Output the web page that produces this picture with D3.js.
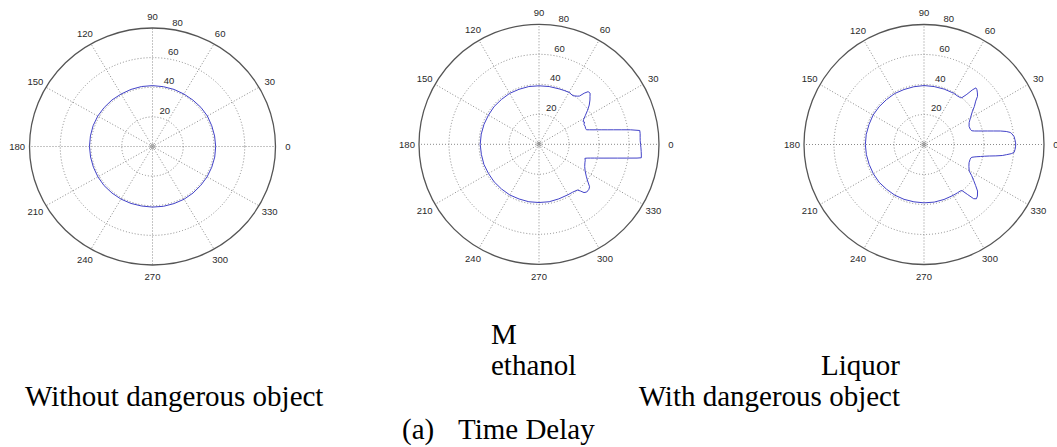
<!DOCTYPE html>
<html>
<head>
<meta charset="utf-8">
<script src="https://cdn.jsdelivr.net/npm/d3@7"></script>
<style>
  body { margin: 0; background: #fff; }
  svg { display: block; }
</style>
</head>
<body>
<div id="chart"></div>
<script>
// polar axis ticks
const angleTicks = [0, 30, 60, 90, 120, 150, 180, 210, 240, 270, 300, 330];
const ringTicks = [20, 40, 60, 80];
const rMax = 80;

// without dangerous object
const withoutAngles = [0, 10, 20, 30, 40, 50, 60, 70, 80, 90, 100, 110, 120, 130, 140, 150, 160, 170,
  180, 190, 200, 210, 220, 230, 240, 250, 260, 270, 280, 290, 300, 310, 320, 330, 340, 350];
const withoutValues = [41.1, 41.0, 41.0, 41.2, 41.1, 40.9, 40.9, 41.0, 41.0, 41.1, 41.1, 41.0, 40.9, 41.0, 41.0, 41.1, 41.1, 41.0,
  41.0, 40.9, 40.9, 41.0, 41.1, 41.0, 41.0, 40.9, 40.8, 40.9, 41.0, 41.0, 41.1, 41.0, 40.9, 41.0, 41.0, 41.1];

// methanol
const methanolAngles = [-180, -170, -160, -150, -140, -130, -120, -110, -100, -90, -80, -70, -60, -55, -50, -48.5, -47, -45, -42, -40, -37, -34, -30, -26, -22, -19, -17,
  -16, -15, -14, -13, -12, -11, -10, -9, -8, -7.5, -6, -4, -2, 0, 2, 4, 6, 7.8, 9, 10, 11, 12, 13, 14, 15, 16, 17, 19, 21, 24, 26, 27, 29, 32, 35, 38, 41, 43, 45, 47,
  48.5, 50, 51.5, 55, 60, 65, 70, 80, 90, 100, 110, 120, 130, 140, 150, 160, 170];
const methanolValues = [39.2, 39.0, 39.1, 38.9, 39.0, 38.9, 39.0, 38.8, 38.9, 38.8, 38.9, 38.7, 38.8, 39.0, 39.8, 41.5, 44.0, 45.0, 44.8, 44.0, 40.6, 38.0, 35.5, 33.9, 33.0, 32.6, 32.0,
  33.4, 35.5, 38.0, 40.9, 44.3, 48.2, 53.0, 58.8, 66.0, 68.8, 68.6, 68.3, 68.0, 67.7, 67.5, 67.6, 67.8, 67.8, 61.8, 55.7, 50.7, 46.5, 43.0, 40.0, 37.3, 35.1, 33.1, 32.8, 33.0, 32.8, 33.8, 33.0, 34.0, 36.5, 39.5, 42.5, 45.0, 46.5, 48.2, 48.0,
  45.5, 42.0, 41.0, 39.5, 40.0, 39.6, 39.3, 39.1, 39.0, 39.1, 39.0, 39.2, 39.0, 39.1, 38.9, 39.0, 39.1];

// liquor
const liquorAngles = [-180, -170, -160, -150, -140, -130, -120, -110, -100, -90, -80, -70, -60, -55, -52, -50.5, -49, -47.5, -46, -44, -41, -38.5, -36, -33, -30.5, -26, -22, -18,
  -16, -15, -14, -13, -12, -11, -10, -9, -8, -7, -6, -5, -3, -1, 1, 3, 5, 7, 8, 9, 10, 11, 12, 13, 14, 15, 16, 18, 22, 26, 30, 34.5, 37, 40, 42, 44, 46, 47.5,
  48.5, 49.5, 51, 52, 55, 60, 70, 80, 90, 100, 110, 120, 130, 140, 150, 160, 170];
const liquorValues = [39.1, 39.0, 38.9, 39.0, 39.1, 38.9, 39.0, 38.9, 38.8, 38.9, 39.0, 39.0, 39.1, 39.2, 39.3, 39.8, 44.0, 49.0, 50.3, 49.5, 47.3, 44.0, 41.0, 37.8, 35.0, 33.3, 32.4, 32.3,
  32.5, 33.0, 34.4, 36.2, 38.5, 41.0, 44.2, 48.5, 52.7, 55.5, 58.5, 60.3, 60.8, 61.1, 61.1, 60.7, 60.3, 59.0, 58.0, 55.5, 51.8, 47.2, 43.3, 40.0, 37.2, 34.8, 33.2, 32.5, 32.4, 33.5, 35.8, 39.2, 42.0, 45.0, 48.0, 49.5, 50.8, 51.2,
  48.5, 44.0, 40.2, 39.6, 39.3, 39.5, 39.3, 39.2, 39.3, 39.1, 39.0, 39.2, 39.0, 39.1, 39.2, 39.0, 39.1];

const width = 1057;
const height = 447;

const svg = d3
  .select("#chart")
  .append("svg")
  .attr("width", width)
  .attr("height", height)
  .style("background", "#fff");

const panels = [
  { cx: 152.5, cy: 146.5, rx: 123, ry: 118.5, angles: withoutAngles, values: withoutValues },
  { cx: 539, cy: 144.3, rx: 120, ry: 120, angles: methanolAngles, values: methanolValues },
  { cx: 924, cy: 144.5, rx: 120, ry: 120, angles: liquorAngles, values: liquorValues },
];

const theta = d3.scaleLinear().domain([0, 360]).range([0, 2 * Math.PI]);

function drawPolar(p) {
  const g = svg.append("g");
  const rX = d3.scaleLinear().domain([0, rMax]).range([0, p.rx]);
  const rY = d3.scaleLinear().domain([0, rMax]).range([0, p.ry]);
  const px = (a, r) => p.cx + rX(r) * Math.cos(theta(a));
  const py = (a, r) => p.cy - rY(r) * Math.sin(theta(a));

  // dotted rings
  g.selectAll(".ring")
    .data(ringTicks.filter((d) => d < rMax))
    .enter()
    .append("ellipse")
    .attr("cx", p.cx)
    .attr("cy", p.cy)
    .attr("rx", (d) => rX(d))
    .attr("ry", (d) => rY(d))
    .attr("fill", "none")
    .attr("stroke", "#8a8a8a")
    .attr("stroke-width", 1)
    .attr("stroke-dasharray", "1,2");

  // dotted spokes
  g.selectAll(".spoke")
    .data(angleTicks)
    .enter()
    .append("line")
    .attr("x1", p.cx)
    .attr("y1", p.cy)
    .attr("x2", (d) => px(d, rMax))
    .attr("y2", (d) => py(d, rMax))
    .attr("stroke", "#8a8a8a")
    .attr("stroke-width", 1)
    .attr("stroke-dasharray", "1,2");

  // outer circle
  g.append("ellipse")
    .attr("cx", p.cx)
    .attr("cy", p.cy)
    .attr("rx", rX(rMax))
    .attr("ry", rY(rMax))
    .attr("fill", "none")
    .attr("stroke", "#555")
    .attr("stroke-width", 1.3);

  g.append("circle")
    .attr("cx", p.cx)
    .attr("cy", p.cy)
    .attr("r", 2)
    .attr("fill", "none")
    .attr("stroke", "#777")
    .attr("stroke-width", 0.8);

  // angle labels
  g.selectAll(".alabel")
    .data(angleTicks)
    .enter()
    .append("text")
    .attr("x", (d) => px(d, rMax * 1.1))
    .attr("y", (d) => py(d, rMax * 1.1))
    .attr("text-anchor", "middle")
    .attr("dominant-baseline", "central")
    .style("font-family", "'Liberation Sans', Arial, sans-serif")
    .style("font-size", "9.5px")
    .style("fill", "#2a2a2a")
    .text((d) => d);

  // radial labels along 82 degrees
  g.selectAll(".rlabel")
    .data(ringTicks)
    .enter()
    .append("text")
    .attr("x", (d) => px(82, d + 1) + 2.5)
    .attr("y", (d) => py(82, d + 1) - 2)
    .attr("text-anchor", "start")
    .style("font-family", "'Liberation Sans', Arial, sans-serif")
    .style("font-size", "9.5px")
    .style("fill", "#2a2a2a")
    .text((d) => d);

  const line = d3
    .line()
    .x((d) => px(d[0], d[1]))
    .y((d) => py(d[0], d[1]))
    .curve(d3.curveLinearClosed);

  g.append("path")
    .datum(d3.zip(p.angles, p.values))
    .attr("d", line)
    .attr("fill", "none")
    .attr("stroke", "#4242c8")
    .attr("stroke-width", 1);
}

panels.forEach(drawPolar);

// captions
const captions = [
  { text: "M", x: 491, y: 344, anchor: "start" },
  { text: "ethanol", x: 491, y: 375, anchor: "start" },
  { text: "Liquor", x: 900, y: 375, anchor: "end" },
  { text: "Without dangerous object", x: 25, y: 406, anchor: "start" },
  { text: "With dangerous object", x: 900, y: 406, anchor: "end" },
  { text: "(a)", x: 402, y: 439, anchor: "start" },
  { text: "Time Delay", x: 458, y: 439, anchor: "start" },
];

svg.selectAll(".caption")
  .data(captions)
  .enter()
  .append("text")
  .attr("x", (d) => d.x)
  .attr("y", (d) => d.y)
  .attr("text-anchor", (d) => d.anchor)
  .style("font-family", "'Liberation Serif', 'Times New Roman', serif")
  .style("font-size", "29px")
  .style("fill", "#000")
  .text((d) => d.text);
</script>
</body>
</html>
